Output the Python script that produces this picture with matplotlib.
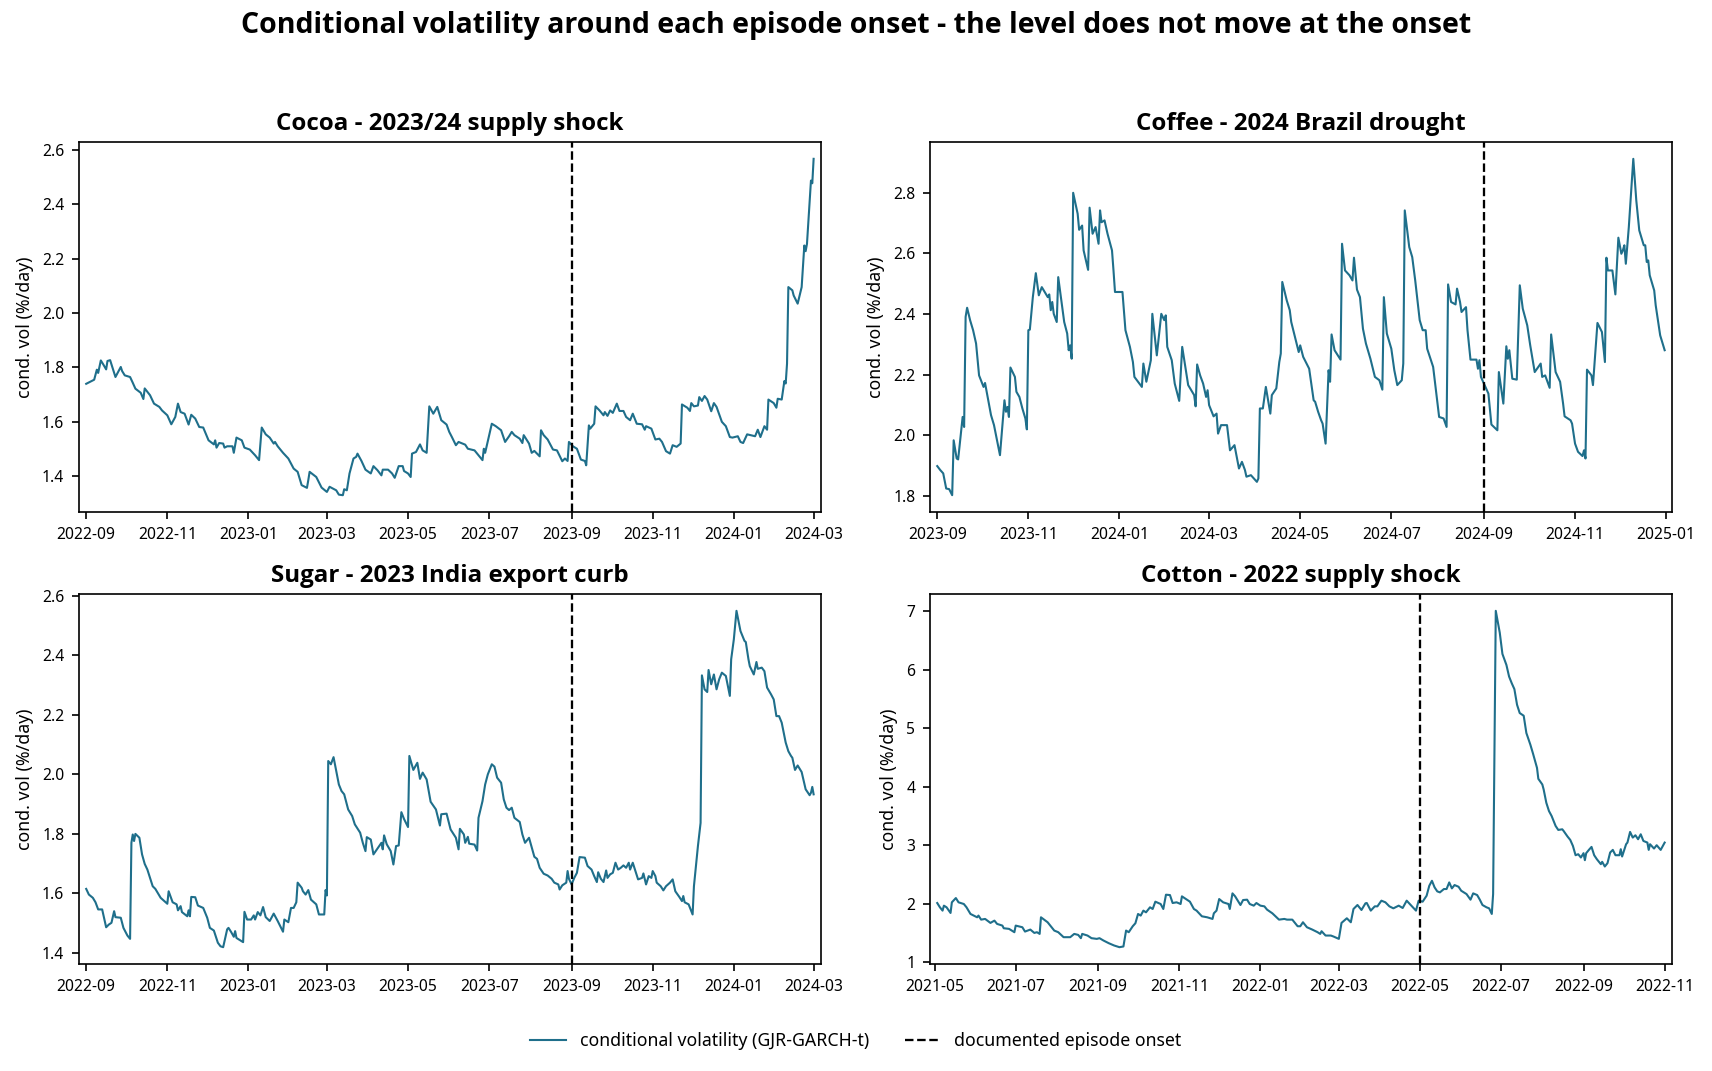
import pandas as pd
import matplotlib
matplotlib.use("Agg")
import matplotlib.pyplot as plt
import matplotlib.dates as mdates

plt.rcParams['font.family'] = ['Noto Sans', 'DejaVu Sans']
BOLD_FAMILY = ['Open Sans', 'DejaVu Sans']

LINE_COLOR = '#1f6f8b'

# ---------------- data (day offsets from start date, conditional vol %/day) ----
cocoa_start = "2022-09-01"
cocoa_onset = "2023-09-01"
cocoa_day = [0, 6, 8, 9, 11, 13, 15, 16, 18, 22,
             26, 27, 29, 33, 35, 37, 41, 43, 44, 48,
             51, 55, 57, 61, 64, 67, 69, 71, 74, 77,
             79, 82, 85, 88, 92, 96, 97, 98, 100, 103,
             104, 106, 110, 111, 113, 117, 119, 123, 127, 130,
             132, 135, 138, 141, 142, 144, 148, 152, 156, 159,
             162, 166, 167, 168, 173, 177, 181, 183, 188, 190,
             193, 194, 196, 198, 201, 203, 204, 207, 210, 214,
             216, 219, 222, 223, 227, 230, 232, 235, 238, 239,
             242, 244, 245, 248, 251, 253, 256, 258, 261, 264,
             267, 271, 273, 275, 278, 280, 285, 287, 292, 295,
             298, 299, 300, 305, 308, 312, 315, 318, 320, 322,
             326, 328, 329, 333, 335, 337, 341, 342, 344, 347,
             351, 354, 358, 360, 362, 363, 366, 369, 372, 375,
             376, 378, 379, 382, 383, 386, 389, 390, 392, 394,
             396, 399, 401, 404, 406, 409, 411, 414, 418, 420,
             421, 425, 428, 431, 433, 436, 439, 441, 444, 447,
             448, 452, 454, 455, 457, 460, 461, 463, 465, 467,
             470, 472, 474, 478, 481, 484, 486, 490, 492, 494,
             497, 503, 505, 507, 510, 512, 513, 517, 519, 520,
             523, 525, 526, 527, 528, 531, 532, 535, 538, 540,
             541, 542, 545, 546, 547]
cocoa_vol = [1.739, 1.754, 1.791, 1.779, 1.825, 1.809, 1.792, 1.823, 1.826, 1.764,
             1.801, 1.786, 1.770, 1.764, 1.743, 1.721, 1.706, 1.683, 1.722, 1.697,
             1.666, 1.654, 1.641, 1.623, 1.590, 1.617, 1.666, 1.635, 1.629, 1.589,
             1.625, 1.611, 1.580, 1.578, 1.531, 1.516, 1.531, 1.504, 1.521, 1.519,
             1.504, 1.509, 1.509, 1.485, 1.541, 1.531, 1.504, 1.497, 1.476, 1.458,
             1.578, 1.553, 1.541, 1.519, 1.525, 1.509, 1.485, 1.464, 1.427, 1.415,
             1.366, 1.356, 1.384, 1.415, 1.396, 1.357, 1.341, 1.360, 1.347, 1.331,
             1.329, 1.351, 1.347, 1.409, 1.464, 1.470, 1.482, 1.455, 1.423, 1.409,
             1.436, 1.421, 1.402, 1.423, 1.423, 1.409, 1.393, 1.436, 1.436, 1.418,
             1.409, 1.396, 1.482, 1.488, 1.516, 1.494, 1.485, 1.656, 1.629, 1.654,
             1.605, 1.589, 1.562, 1.543, 1.513, 1.525, 1.515, 1.500, 1.494, 1.476,
             1.458, 1.500, 1.485, 1.592, 1.583, 1.568, 1.525, 1.546, 1.562, 1.550,
             1.537, 1.521, 1.550, 1.519, 1.485, 1.492, 1.472, 1.568, 1.550, 1.534,
             1.497, 1.494, 1.454, 1.464, 1.455, 1.525, 1.509, 1.500, 1.460, 1.455,
             1.439, 1.586, 1.574, 1.592, 1.656, 1.641, 1.623, 1.635, 1.621, 1.641,
             1.632, 1.666, 1.639, 1.639, 1.617, 1.605, 1.629, 1.592, 1.590, 1.570,
             1.583, 1.574, 1.534, 1.537, 1.525, 1.491, 1.482, 1.513, 1.507, 1.519,
             1.663, 1.651, 1.639, 1.668, 1.656, 1.659, 1.690, 1.676, 1.694, 1.681,
             1.638, 1.668, 1.654, 1.599, 1.583, 1.543, 1.541, 1.546, 1.525, 1.521,
             1.553, 1.546, 1.570, 1.543, 1.583, 1.570, 1.681, 1.668, 1.651, 1.684,
             1.681, 1.749, 1.740, 1.813, 2.095, 2.083, 2.064, 2.034, 2.095, 2.248,
             2.227, 2.254, 2.487, 2.477, 2.567]

coffee_start = "2023-09-01"
coffee_onset = "2024-09-01"
coffee_day = [0, 2, 4, 6, 8, 10, 11, 13, 14, 17,
              18, 19, 20, 22, 24, 26, 28, 31, 32, 36,
              38, 40, 42, 45, 46, 47, 48, 49, 52, 53,
              55, 57, 59, 60, 61, 62, 64, 66, 68, 70,
              74, 75, 76, 77, 78, 80, 81, 85, 87, 88,
              89, 90, 91, 94, 95, 97, 98, 101, 102, 104,
              106, 108, 109, 110, 112, 114, 117, 118, 119, 124,
              126, 129, 131, 132, 137, 138, 140, 143, 144, 147,
              150, 152, 153, 154, 157, 159, 162, 164, 167, 168,
              172, 173, 174, 176, 178, 180, 181, 182, 185, 187,
              188, 190, 194, 196, 199, 202, 204, 206, 207, 210,
              214, 215, 216, 218, 220, 223, 224, 227, 229, 230,
              231, 234, 236, 237, 240, 242, 243, 245, 249, 252,
              253, 255, 257, 258, 260, 262, 263, 264, 266, 270,
              271, 273, 276, 278, 279, 281, 283, 285, 287, 290,
              293, 296, 298, 299, 301, 304, 306, 308, 311, 312,
              313, 316, 318, 320, 323, 325, 327, 328, 332, 336,
              339, 341, 342, 344, 347, 348, 350, 351, 354, 355,
              357, 361, 362, 363, 364, 366, 369, 371, 375, 376,
              379, 381, 382, 383, 385, 388, 390, 392, 395, 397,
              400, 404, 405, 407, 410, 411, 414, 417, 419, 420,
              424, 425, 427, 429, 432, 433, 434, 435, 438, 439,
              442, 445, 447, 448, 449, 452, 454, 456, 458, 459,
              460, 461, 463, 466, 468, 470, 473, 474, 475, 476,
              477, 480, 481, 484, 487]
coffee_vol = [1.899, 1.886, 1.875, 1.825, 1.823, 1.803, 1.984, 1.924, 1.921, 2.061,
              2.028, 2.391, 2.421, 2.380, 2.347, 2.303, 2.198, 2.160, 2.173, 2.067,
              2.034, 1.984, 1.935, 2.116, 2.078, 2.094, 2.061, 2.224, 2.193, 2.144,
              2.127, 2.089, 2.056, 2.020, 2.347, 2.349, 2.456, 2.535, 2.462, 2.489,
              2.456, 2.465, 2.413, 2.440, 2.401, 2.374, 2.522, 2.374, 2.336, 2.281,
              2.297, 2.253, 2.800, 2.731, 2.678, 2.692, 2.610, 2.546, 2.751, 2.665,
              2.687, 2.632, 2.742, 2.703, 2.709, 2.665, 2.610, 2.544, 2.473, 2.473,
              2.347, 2.292, 2.242, 2.193, 2.160, 2.237, 2.177, 2.248, 2.401, 2.264,
              2.401, 2.380, 2.396, 2.292, 2.248, 2.171, 2.114, 2.292, 2.198, 2.166,
              2.133, 2.096, 2.234, 2.198, 2.171, 2.127, 2.149, 2.100, 2.063, 2.072,
              2.006, 2.034, 2.034, 1.951, 1.968, 1.891, 1.913, 1.886, 1.864, 1.869,
              1.847, 1.858, 2.089, 2.089, 2.160, 2.072, 2.133, 2.155, 2.242, 2.270,
              2.506, 2.445, 2.413, 2.374, 2.314, 2.275, 2.297, 2.259, 2.220, 2.116,
              2.111, 2.078, 2.050, 2.039, 1.973, 2.215, 2.177, 2.333, 2.281, 2.250,
              2.632, 2.544, 2.528, 2.511, 2.586, 2.481, 2.456, 2.352, 2.303, 2.253,
              2.193, 2.182, 2.151, 2.456, 2.336, 2.286, 2.215, 2.166, 2.182, 2.237,
              2.742, 2.621, 2.588, 2.511, 2.380, 2.347, 2.347, 2.286, 2.226, 2.061,
              2.056, 2.028, 2.498, 2.440, 2.432, 2.484, 2.440, 2.407, 2.423, 2.347,
              2.250, 2.250, 2.220, 2.248, 2.193, 2.171, 2.138, 2.036, 2.017, 2.209,
              2.105, 2.294, 2.253, 2.281, 2.187, 2.184, 2.495, 2.418, 2.363, 2.297,
              2.209, 2.237, 2.193, 2.198, 2.157, 2.333, 2.209, 2.177, 2.105, 2.063,
              2.050, 2.039, 1.973, 1.946, 1.932, 1.951, 1.924, 2.217, 2.198, 2.166,
              2.371, 2.341, 2.242, 2.586, 2.544, 2.544, 2.465, 2.652, 2.599, 2.610,
              2.627, 2.566, 2.687, 2.912, 2.775, 2.676, 2.627, 2.627, 2.572, 2.577,
              2.528, 2.478, 2.429, 2.330, 2.281]

sugar_start = "2022-09-01"
sugar_onset = "2023-09-01"
sugar_day = [0, 2, 5, 7, 9, 12, 15, 17, 19, 21,
             22, 26, 28, 31, 33, 34, 35, 36, 37, 40,
             42, 44, 46, 50, 52, 54, 56, 61, 62, 65,
             68, 69, 71, 72, 76, 77, 78, 79, 82, 84,
             88, 91, 93, 96, 99, 101, 103, 106, 107, 109,
             111, 112, 113, 118, 119, 121, 124, 126, 127, 129,
             131, 133, 135, 138, 141, 144, 148, 149, 152, 154,
             156, 158, 159, 162, 163, 165, 167, 169, 173, 175,
             179, 180, 181, 182, 184, 186, 190, 192, 194, 197,
             200, 202, 206, 208, 210, 211, 214, 216, 222, 223,
             224, 226, 229, 231, 233, 235, 237, 239, 242, 243,
             246, 249, 251, 253, 256, 259, 263, 266, 267, 271,
             274, 278, 280, 281, 284, 285, 287, 288, 292, 294,
             295, 298, 300, 302, 305, 307, 309, 312, 314, 316,
             318, 320, 322, 326, 328, 330, 333, 337, 339, 341,
             344, 347, 350, 352, 355, 356, 358, 361, 362, 363,
             365, 367, 369, 371, 375, 377, 380, 382, 384, 385,
             387, 389, 391, 392, 394, 396, 398, 400, 402, 404,
             406, 408, 409, 411, 413, 415, 418, 419, 421, 423,
             425, 426, 428, 429, 432, 434, 436, 439, 441, 443,
             446, 448, 449, 450, 453, 456, 457, 460, 462, 463,
             465, 467, 468, 470, 472, 474, 476, 478, 481, 484,
             485, 487, 489, 492, 495, 496, 498, 499, 502, 504,
             505, 508, 510, 512, 515, 517, 519, 521, 523, 526,
             528, 530, 531, 533, 535, 538, 541, 544, 545, 546,
             547]
sugar_vol = [1.615, 1.596, 1.585, 1.570, 1.546, 1.546, 1.486, 1.495, 1.501, 1.540,
             1.520, 1.518, 1.484, 1.458, 1.447, 1.770, 1.798, 1.776, 1.800, 1.787,
             1.731, 1.699, 1.680, 1.624, 1.615, 1.600, 1.585, 1.565, 1.607, 1.570,
             1.563, 1.543, 1.557, 1.537, 1.523, 1.543, 1.523, 1.588, 1.587, 1.559,
             1.551, 1.518, 1.484, 1.475, 1.434, 1.422, 1.419, 1.479, 1.484, 1.470,
             1.454, 1.473, 1.450, 1.436, 1.538, 1.512, 1.512, 1.526, 1.512, 1.537,
             1.526, 1.554, 1.520, 1.507, 1.532, 1.507, 1.471, 1.512, 1.503, 1.551,
             1.551, 1.570, 1.636, 1.619, 1.607, 1.596, 1.611, 1.579, 1.563, 1.529,
             1.529, 1.611, 1.593, 2.045, 2.034, 2.058, 1.966, 1.944, 1.933, 1.882,
             1.860, 1.832, 1.804, 1.770, 1.742, 1.789, 1.781, 1.731, 1.770, 1.748,
             1.795, 1.765, 1.742, 1.697, 1.759, 1.761, 1.873, 1.850, 1.823, 2.062,
             2.015, 2.039, 1.985, 2.006, 1.983, 1.908, 1.882, 1.828, 1.866, 1.868,
             1.815, 1.787, 1.748, 1.817, 1.798, 1.770, 1.790, 1.767, 1.764, 1.744,
             1.854, 1.910, 1.966, 2.000, 2.034, 2.026, 1.989, 1.972, 1.916, 1.888,
             1.880, 1.888, 1.854, 1.840, 1.798, 1.770, 1.787, 1.723, 1.716, 1.686,
             1.666, 1.660, 1.649, 1.636, 1.630, 1.613, 1.627, 1.636, 1.675, 1.649,
             1.630, 1.652, 1.669, 1.722, 1.720, 1.692, 1.680, 1.658, 1.638, 1.671,
             1.649, 1.638, 1.677, 1.652, 1.664, 1.669, 1.703, 1.680, 1.686, 1.694,
             1.686, 1.703, 1.680, 1.703, 1.675, 1.647, 1.652, 1.667, 1.630, 1.658,
             1.652, 1.675, 1.658, 1.636, 1.624, 1.610, 1.624, 1.636, 1.647, 1.607,
             1.588, 1.574, 1.591, 1.570, 1.563, 1.529, 1.624, 1.759, 1.837, 2.333,
             2.286, 2.277, 2.351, 2.303, 2.336, 2.286, 2.320, 2.342, 2.331, 2.264,
             2.387, 2.454, 2.550, 2.482, 2.449, 2.445, 2.387, 2.364, 2.336, 2.378,
             2.355, 2.359, 2.347, 2.292, 2.269, 2.252, 2.196, 2.196, 2.174, 2.107,
             2.078, 2.062, 2.056, 2.015, 2.030, 2.008, 1.950, 1.930, 1.938, 1.958,
             1.933]

cotton_start = "2021-05-01"
cotton_onset = "2022-05-01"
cotton_day = [2, 4, 6, 7, 9, 12, 13, 16, 18, 22,
              24, 27, 32, 33, 35, 38, 42, 45, 47, 51,
              52, 56, 60, 61, 66, 68, 72, 75, 77, 79,
              80, 85, 87, 90, 93, 97, 102, 105, 108, 110,
              111, 115, 118, 122, 124, 127, 131, 135, 139, 142,
              144, 146, 149, 151, 153, 155, 157, 159, 162, 164,
              166, 170, 172, 174, 177, 179, 182, 185, 186, 189,
              192, 195, 197, 201, 205, 209, 210, 212, 214, 217,
              221, 222, 224, 226, 230, 232, 235, 237, 240, 242,
              245, 248, 250, 254, 259, 263, 265, 269, 273, 275,
              277, 280, 284, 288, 290, 291, 294, 298, 300, 304,
              306, 310, 313, 315, 318, 321, 324, 325, 328, 331,
              333, 336, 339, 342, 345, 349, 352, 355, 358, 362,
              364, 367, 370, 372, 374, 376, 378, 380, 383, 385,
              387, 389, 391, 394, 396, 400, 403, 405, 408, 410,
              412, 415, 417, 419, 420, 421, 422, 425, 427, 430,
              432, 434, 436, 438, 440, 443, 445, 448, 450, 453,
              454, 457, 458, 460, 462, 464, 467, 469, 472, 473,
              476, 478, 480, 482, 484, 486, 488, 489, 490, 492,
              494, 496, 498, 501, 502, 504, 506, 508, 510, 512,
              515, 516, 517, 520, 521, 523, 525, 527, 529, 531,
              533, 536, 537, 538, 541, 543, 546, 549]
cotton_vol = [2.010, 1.937, 1.880, 1.965, 1.937, 1.840, 2.022, 2.095, 2.022, 1.993,
              1.937, 1.823, 1.766, 1.795, 1.726, 1.738, 1.670, 1.709, 1.653, 1.624,
              1.579, 1.568, 1.511, 1.624, 1.596, 1.522, 1.556, 1.499, 1.511, 1.482,
              1.766, 1.681, 1.624, 1.539, 1.511, 1.426, 1.426, 1.482, 1.465, 1.409,
              1.482, 1.454, 1.409, 1.397, 1.409, 1.369, 1.323, 1.284, 1.255, 1.267,
              1.539, 1.511, 1.613, 1.664, 1.823, 1.795, 1.880, 1.851, 1.937, 1.908,
              2.033, 1.993, 1.908, 2.152, 2.146, 2.010, 2.022, 1.993, 2.124, 2.078,
              2.033, 1.908, 1.880, 1.783, 1.766, 1.738, 1.834, 1.880, 2.078, 2.022,
              1.993, 1.908, 2.175, 2.124, 1.976, 2.061, 2.067, 1.993, 1.965, 2.010,
              1.965, 1.953, 1.897, 1.834, 1.726, 1.738, 1.726, 1.726, 1.613, 1.613,
              1.681, 1.596, 1.556, 1.511, 1.482, 1.528, 1.454, 1.454, 1.437, 1.397,
              1.670, 1.749, 1.681, 1.908, 1.976, 1.891, 2.005, 2.010, 1.880, 1.953,
              1.953, 2.050, 2.022, 1.953, 1.919, 1.965, 1.925, 2.050, 1.976, 1.880,
              2.050, 2.033, 2.135, 2.305, 2.390, 2.277, 2.209, 2.192, 2.249, 2.249,
              2.362, 2.260, 2.317, 2.288, 2.220, 2.163, 2.067, 2.175, 2.146, 2.067,
              1.976, 1.937, 1.919, 1.823, 2.163, 4.689, 7.004, 6.630, 6.267, 6.079,
              5.881, 5.767, 5.665, 5.398, 5.257, 5.211, 4.916, 4.717, 4.564, 4.320,
              4.133, 4.036, 3.951, 3.724, 3.582, 3.497, 3.327, 3.259, 3.270, 3.242,
              3.145, 3.089, 2.986, 2.827, 2.844, 2.788, 2.862, 2.742, 2.862, 2.918,
              2.969, 2.827, 2.759, 2.674, 2.714, 2.634, 2.691, 2.873, 2.918, 2.827,
              2.827, 2.930, 2.805, 3.015, 3.043, 3.225, 3.128, 3.168, 3.100, 3.185,
              3.071, 3.043, 2.918, 3.015, 2.941, 2.998, 2.918, 3.043]

titles = ["Cocoa - 2023/24 supply shock", "Coffee - 2024 Brazil drought",
          "Sugar - 2023 India export curb", "Cotton - 2022 supply shock"]
starts = [cocoa_start, coffee_start, sugar_start, cotton_start]
onsets = [cocoa_onset, coffee_onset, sugar_onset, cotton_onset]
days = [cocoa_day, coffee_day, sugar_day, cotton_day]
vols = [cocoa_vol, coffee_vol, sugar_vol, cotton_vol]

# ---------------- figure ----------------
fig, axes = plt.subplots(2, 2, figsize=(1712 / 150, 1071 / 150), dpi=150)
fig.subplots_adjust(left=0.0461, right=0.9766, bottom=0.0999, top=0.8674,
                    wspace=0.147, hspace=0.2216)

for ax, title, start, onset, d, v in zip(axes.flat, titles, starts, onsets, days, vols):
    n = min(len(d), len(v))
    dates = pd.Timestamp(start) + pd.to_timedelta(d[:n], unit="D")
    ax.plot(dates, v[:n], color=LINE_COLOR, lw=1.0,
            label="conditional volatility (GJR-GARCH-t)")
    ax.axvline(pd.Timestamp(onset), color="black", ls="--", lw=1.1,
               label="documented episode onset")
    ax.margins(x=0.01)
    ax.set_title(title, fontsize=11.6, fontweight="bold", family=BOLD_FAMILY)
    ax.set_ylabel("cond. vol (%/day)", fontsize=8.5)
    ax.xaxis.set_major_locator(mdates.MonthLocator(bymonth=[1, 3, 5, 7, 9, 11]))
    ax.xaxis.set_major_formatter(mdates.DateFormatter("%Y-%m"))
    ax.tick_params(labelsize=7.5)

handles, labels = axes[0, 0].get_legend_handles_labels()
fig.legend(handles, labels, loc="center", bbox_to_anchor=(0.5, 0.028),
           ncol=2, frameon=False, fontsize=8.5)

fig.suptitle("Conditional volatility around each episode onset - the level does not move at the onset",
             fontsize=13.7, fontweight="bold", family=BOLD_FAMILY, y=0.976, va="center")

fig.savefig("out.png", dpi=150)
